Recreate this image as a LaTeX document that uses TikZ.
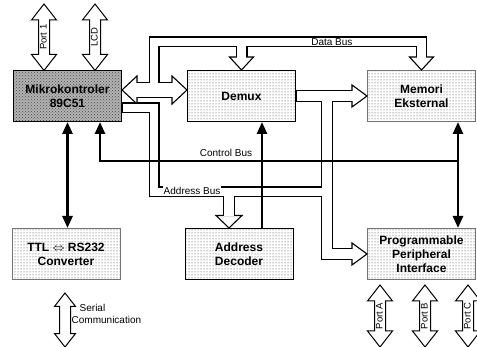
\documentclass[tikz,border=0pt]{standalone}
\usepackage{fontspec}
\setmainfont{Liberation Sans}
\usetikzlibrary{arrows.meta, calc, patterns, shapes.arrows, positioning}
\tikzset{
	modul/.style     ={rectangle, draw=black, line width=1pt, minimum width=108pt, minimum height=51pt, inner sep=0pt, align=center, font=\fontsize{12}{14}\selectfont\bfseries, pattern=dots, pattern color=black!80},
	modulabu/.style  ={modul, draw=black!55},
	modulgelap/.style={modul, preaction={fill=black!30}, pattern=crosshatch dots, pattern color=black!70},
	% hollow bus: black walls first, white inside afterwards
	pipa/.style      ={line width=#1, line join=miter},
	isi/.style       ={draw=white, line width=#1, line join=miter},
	kepala/.style    ={draw=black, fill=white, line width=1.1pt, line join=miter},
	bus/.style       ={line width=2.6pt, -{Triangle[length=12pt, width=10pt]}},
	busdua/.style    ={line width=2.6pt, {Triangle[length=12pt, width=10pt]}-{Triangle[length=12pt, width=10pt]}},
	port/.style      ={double arrow, draw=black, fill=white, line width=1pt, rotate=90, double arrow head extend=7pt, double arrow tip angle=76, minimum width=0pt, inner xsep=0pt, inner ysep=1pt, text height=6.5pt, text depth=1.5pt, font=\fontsize{9.5}{11}\selectfont},
	teksbus/.style   ={font=\fontsize{10}{11.6}\selectfont, inner sep=0.5pt},
}

\begin{document}
\begin{tikzpicture}[x=1pt, y=-1pt]
\useasboundingbox (0,0) rectangle (477,347);

% modules
\node[modulgelap] (mcu)   at (67.5,96)  {Mikrokontroler\\89C51};
\node[modul]      (demux) at (241.5,96) {Demux};
\node[modulabu]   (mem)   at (421.5,96) {Memori\\Eksternal};
\node[modulabu]   (ttl)   at (66,254)   {TTL $\Leftrightarrow$ RS232\\Converter};
\node[modul]      (adec)  at (239,254)  {Address\\Decoder};
\node[modulabu]   (ppi)   at (421.5,254) {Programmable\\Peripheral\\Interface};

% ports
\node[port, minimum height=66.5pt] (p1)  at (44,37.25) {Port 1};
\node[port, minimum height=66.5pt] (lcd) at (95,37.25) {LCD};
\node[port, minimum height=54pt, double arrow head extend=5pt] (ser) at (65,320) {};
\node[teksbus, anchor=west, align=left] (serlbl) at (71,314) {\hspace*{8pt}Serial\\Communication};
\node[port, minimum height=62pt] (pa) at (380,316) {Port A};
\node[port, minimum height=62pt] (pb) at (425,316) {Port B};
\node[port, minimum height=62pt] (pc) at (468,316) {Port C};

\coordinate (dbL) at (mcu.east |- 0,90);
\coordinate (dbR) at (demux.west |- 0,90);
\coordinate (dbT) at (154,42);
\coordinate (ab)  at ($(adec.north)+(-10,0)$);

% bus walls
\draw[pipa=16pt] ($(dbL)+(15,0)$) -- ($(dbR)+(-15,0)$);
\draw[pipa=11pt] (dbL -| dbT) -- (dbT) -- (mem.north |- dbT) -- ($(mem.north)+(0,-13)$);
\draw[pipa=12pt] (demux.north |- dbT) -- ($(demux.north)+(0,-13)$);
\draw[pipa=11pt] (mcu.east |- 0,108) -- (154,108) -- (154,192) -- (327,192);
\draw[pipa=12pt] (ab |- 0,192) -- ($(ab)+(0,-12.5)$);
\draw[pipa=12pt] (demux.east) -- ($(mem.west)+(-15,0)$);
\draw[pipa=12pt] (327,96) -- (327,254) -- ($(ppi.west)+(-15,0)$);

% heads
\draw[kepala] ($(dbL)+(15,-14)$) -- (dbL) -- ($(dbL)+(15,14)$) -- cycle;
\draw[kepala] ($(dbR)+(-15,-14)$) -- (dbR) -- ($(dbR)+(-15,14)$) -- cycle;
\draw[kepala] ($(mem.north)+(-12,-13)$) -- (mem.north) -- ($(mem.north)+(12,-13)$) -- cycle;
\draw[kepala] ($(demux.north)+(-12,-13)$) -- (demux.north) -- ($(demux.north)+(12,-13)$) -- cycle;
\draw[kepala] ($(mem.west)+(-15,-11)$) -- (mem.west) -- ($(mem.west)+(-15,11)$) -- cycle;
\draw[kepala] ($(ppi.west)+(-15,-11)$) -- (ppi.west) -- ($(ppi.west)+(-15,11)$) -- cycle;
\draw[kepala] ($(ab)+(-13,-12.5)$) -- (ab) -- ($(ab)+(13,-12.5)$) -- cycle;

% bus insides
\draw[isi=13.6pt] ($(dbL)+(13.5,0)$) -- ($(dbR)+(-13.5,0)$);
\draw[isi=8.6pt] (dbL -| dbT) -- (dbT) -- node[teksbus, pos=0.665, fill=white] {Data Bus} (mem.north |- dbT) -- ($(mem.north)+(0,-11.5)$);
\draw[isi=9.6pt] (demux.north |- dbT) -- ($(demux.north)+(0,-11.5)$);
\draw[isi=8.6pt] ($(mcu.east |- 0,108)+(0.5,0)$) -- (154,108) -- (154,192) -- node[teksbus, pos=0.22, fill=white, inner ysep=1.5pt, yshift=0.8pt] {Address Bus} (327,192);
\draw[isi=9.6pt] (ab |- 0,192) -- ($(ab)+(0,-11.5)$);
\draw[isi=9.6pt] ($(demux.east)+(0.5,0)$) -- ($(mem.west)+(-13.5,0)$);
\draw[isi=9.6pt] (327,96) -- (327,254) -- ($(ppi.west)+(-13.5,0)$);

% control bus
\coordinate (cbL) at (100,161);
\coordinate (cbR) at (458,161);
\coordinate (adk) at ($(adec.north)+(23,0)$);
\draw[bus] (cbR) -- node[teksbus, pos=0.648, above=2.5pt] {Control Bus} (cbL) -- (cbL |- mcu.south);
\draw[busdua] (cbR |- mem.south) -- (cbR |- ppi.north);
\draw[busdua] (mcu.south) -- (mcu.south |- ttl.north);
\draw[bus] (adk) -- (adk |- demux.south);
\end{tikzpicture}
\end{document}
